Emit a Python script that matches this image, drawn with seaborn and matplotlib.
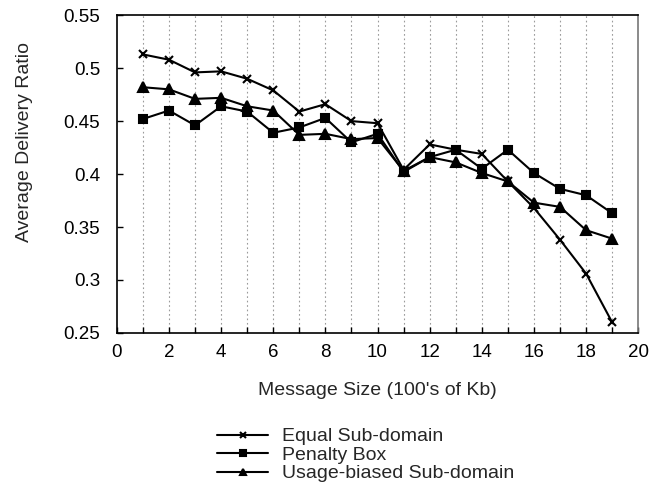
import matplotlib
matplotlib.use("Agg")
import matplotlib.pyplot as plt
import seaborn as sns
import pandas as pd
from matplotlib.ticker import MultipleLocator, FuncFormatter

# Message size in hundreds of Kb
message_size = list(range(1, 20))

equal_subdomain = [0.513, 0.508, 0.496, 0.497, 0.490, 0.479, 0.459, 0.466, 0.450, 0.448,
                   0.404, 0.428, 0.423, 0.419, 0.393, 0.368, 0.338, 0.306, 0.260]
penalty_box = [0.452, 0.460, 0.446, 0.464, 0.459, 0.439, 0.444, 0.453, 0.430, 0.438,
               0.402, 0.416, 0.423, 0.405, 0.423, 0.401, 0.386, 0.380, 0.363]
usage_biased = [0.482, 0.480, 0.471, 0.472, 0.464, 0.460, 0.437, 0.438, 0.433, 0.434,
                0.403, 0.416, 0.411, 0.401, 0.393, 0.373, 0.369, 0.347, 0.339]

series_names = ["Equal Sub-domain", "Penalty Box", "Usage-biased Sub-domain"]
series_values = [equal_subdomain, penalty_box, usage_biased]
series_markers = ["x", "s", "^"]
series_msize = [6, 5.5, 6.5]

sns.set_style("white")
plt.rcParams["font.family"] = ["Liberation Sans", "DejaVu Sans"]

fig = plt.figure(figsize=(6.6, 4.91), dpi=100)
ax = fig.add_axes([0.177, 0.322, 0.790, 0.647])

for name, vals, mk, ms in zip(series_names, series_values, series_markers, series_msize):
    df = pd.DataFrame({"size": message_size, "ratio": vals})
    sns.lineplot(
        data=df, x="size", y="ratio", color="black", marker=mk,
        markersize=ms, markeredgewidth=1.5, markeredgecolor="black",
        linewidth=1.5, ax=ax, label=name,
    )

ax.set_xlim(0, 20)
ax.set_ylim(0.25, 0.55)
ax.xaxis.set_major_locator(MultipleLocator(2))
ax.xaxis.set_minor_locator(MultipleLocator(1))
ax.yaxis.set_major_locator(MultipleLocator(0.05))
ax.yaxis.set_major_formatter(FuncFormatter(lambda v, p: f"{v:.2f}".rstrip("0").rstrip(".")))

for xv in message_size:
    ax.axvline(xv, color="#9a9a9a", linestyle=(0, (1.5, 2.5)), linewidth=0.8, zorder=0)

ax.tick_params(axis="both", which="both", direction="in", labelsize=13.5,
               bottom=True, left=True, top=False, right=False, colors="black")
ax.tick_params(axis="x", which="major", length=4, width=1, pad=8)
ax.tick_params(axis="x", which="minor", length=4, width=1)
ax.tick_params(axis="y", which="major", length=4, width=1, pad=12)

for side in ["left", "bottom", "top"]:
    ax.spines[side].set_color("black")
    ax.spines[side].set_linewidth(1.2)
ax.spines["right"].set_color("#777777")
ax.spines["right"].set_linewidth(1.2)

ax.set_xlabel("Message Size (100's of Kb)", fontsize=14, va="top")
ax.xaxis.set_label_coords(0.5, -0.153)
ax.set_ylabel("Average Delivery Ratio", fontsize=14)
ax.yaxis.set_label_coords(-0.16, 0.60)

handles, labels = ax.get_legend_handles_labels()
ax.legend(handles, labels, loc="upper left", bbox_to_anchor=(0.178, -0.274),
          frameon=False, fontsize=14, markerscale=0.75, handlelength=2.6,
          handletextpad=0.72, labelspacing=0.05, borderaxespad=0)

fig.savefig("out.png", dpi=100)
